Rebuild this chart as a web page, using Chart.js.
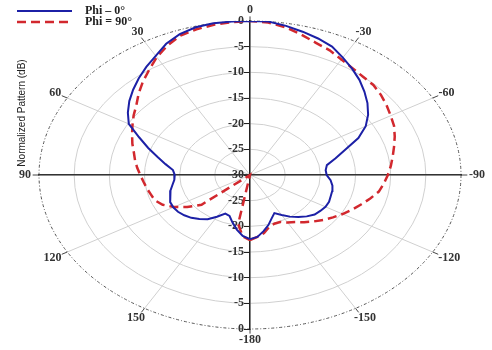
<!DOCTYPE html>
<html>
<head>
<meta charset="utf-8">
<script src="https://cdn.jsdelivr.net/npm/chart.js@4.4.1/dist/chart.umd.min.js"></script>
<style>
  html, body { margin: 0; padding: 0; background: #fff; }
</style>
</head>
<body>
<canvas id="patternChart" width="492" height="350"></canvas>
<script>
// angulos en grados: 0 arriba, positivos hacia la izquierda
var angles = [-180, -175, -170, -165, -160, -155, -150, -145, -140, -135, -130, -125,
              -120, -115, -110, -105, -100, -95, -90, -85, -80, -75, -70, -65,
              -60, -55, -50, -45, -40, -35, -30, -25, -20, -15, -10, -5,
              0, 5, 10, 15, 20, 25, 30, 35, 40, 45, 50, 55,
              60, 65, 70, 75, 80, 85, 90, 95, 100, 105, 110, 115,
              120, 125, 130, 135, 140, 145, 150, 155, 160, 165, 170, 175, 180];

// patron normalizado (dB), Phi = 0
var phi0 = [-17.5, -17.9, -18.9, -19.9, -21.0, -21.8, -21.0, -20.1, -19.3, -18.6, -18.0, -17.8,
            -17.6, -17.6, -17.8, -17.9, -18.1, -18.5, -19.1, -19.2, -18.9, -17.4, -15.6, -13.0,
            -11.0, -9.5, -8.2, -7.0, -5.8, -4.7, -3.6, -2.4, -1.7, -1.1, -0.5, 0,
            0, 0, 0, -0.2, -0.8, -1.8, -3.2, -4.3, -5.4, -6.5, -7.6, -8.8,
            -10.1, -12.6, -14.6, -16.4, -17.8, -19.0, -19.3, -19.2, -18.8, -18.3, -17.9, -17.5,
            -17.4, -17.5, -17.8, -18.2, -18.8, -19.5, -20.6, -21.7, -21.5, -20.4, -19.2, -18.1, -17.5];

// patron normalizado (dB), Phi = 90
var phi90 = [-17.3, -17.9, -18.5, -19.5, -19.9, -19.9, -19.3, -18.8, -18.0, -17.2, -16.4, -15.6,
             -14.8, -14.0, -13.2, -12.3, -11.4, -10.9, -10.4, -9.9, -9.4, -8.8, -8.1, -7.4,
             -6.9, -6.3, -5.7, -5.2, -5.0, -4.6, -4.0, -3.2, -2.6, -1.7, -0.8, -0.2,
             0, -0.1, -0.3, -0.6, -1.1, -2.2, -3.5, -5.0, -6.3, -7.6, -8.9, -9.8,
             -10.7, -11.5, -12.2, -12.9, -13.4, -13.9, -14.4, -14.8, -15.1, -15.4, -15.6, -16.3,
             -17.5, -19.1, -21.0, -30, -30, -30, -30, -30, -30, -30, -20.3, -18.0, -17.3];

var spokeAngles = [0, 30, 60, 90, 120, 150, 180, -150, -120, -90, -60, -30];
var spokeLabels = ['0', '30', '60', '90', '120', '150', '-180', '-150', '-120', '-90', '-60', '-30'];
var ringLevels = [-25, -20, -15, -10, -5];
var dbMin = -30;
var dbMax = 0;

var seriesNames = ['Phi \u2013 0\u00B0', 'Phi = 90\u00B0'];
var seriesColors = ['#1c20a6', '#d2282e'];

function toXY(values) {
    return angles.map(function(a, i) {
        var r = Math.max(0, values[i] - dbMin);
        var t = a * Math.PI / 180;
        return { x: -r * Math.sin(t), y: r * Math.cos(t) };
    });
}

var span = dbMax - dbMin;

// rejilla polar (elipses, radios, etiquetas de angulo)
var polarGrid = {
    id: 'polarGrid',
    beforeDraw: function(chart) {
        var ctx = chart.ctx, xs = chart.scales.x, ys = chart.scales.y;
        var cx = xs.getPixelForValue(0), cy = ys.getPixelForValue(0);
        function pt(r, a) {
            var t = a * Math.PI / 180;
            return [xs.getPixelForValue(-r * Math.sin(t)), ys.getPixelForValue(r * Math.cos(t))];
        }
        ctx.save();
        ctx.strokeStyle = '#d0d0d0';
        ctx.lineWidth = 1;
        ringLevels.forEach(function(lv) {
            var r = lv - dbMin;
            ctx.beginPath();
            ctx.ellipse(cx, cy, xs.getPixelForValue(r) - cx, cy - ys.getPixelForValue(r), 0, 0, Math.PI * 2);
            ctx.stroke();
        });
        spokeAngles.forEach(function(a) {
            var p = pt(span, a);
            ctx.beginPath();
            ctx.moveTo(cx, cy);
            ctx.lineTo(p[0], p[1]);
            ctx.stroke();
        });
        // borde exterior punteado
        ctx.strokeStyle = '#555';
        ctx.setLineDash([3, 2, 1, 2]);
        ctx.beginPath();
        ctx.ellipse(cx, cy, xs.getPixelForValue(span) - cx, cy - ys.getPixelForValue(span), 0, 0, Math.PI * 2);
        ctx.stroke();
        ctx.setLineDash([]);
        // marcas y etiquetas de angulo
        ctx.font = 'bold 12px "Liberation Serif", serif';
        ctx.fillStyle = '#333';
        ctx.textAlign = 'center';
        ctx.textBaseline = 'middle';
        spokeAngles.forEach(function(a, i) {
            var t = a * Math.PI / 180;
            var p = pt(span, a), q = pt(span * 1.03, a);
            ctx.strokeStyle = '#444';
            ctx.beginPath();
            ctx.moveTo(p[0], p[1]);
            ctx.lineTo(q[0], q[1]);
            ctx.stroke();
            var w = ctx.measureText(spokeLabels[i]).width;
            var offX = w / 2 + 8, offY = 11;
            ctx.fillText(spokeLabels[i], p[0] - offX * Math.sin(t), p[1] - offY * Math.cos(t));
        });
        ctx.restore();
    },
    afterDraw: function(chart) {
        var ctx = chart.ctx;
        ctx.save();
        // leyenda
        chart.data.datasets.forEach(function(ds, i) {
            var y = 11 + i * 11;
            ctx.strokeStyle = ds.borderColor;
            ctx.lineWidth = ds.borderWidth;
            ctx.setLineDash(ds.borderDash || []);
            ctx.beginPath();
            ctx.moveTo(17, y);
            ctx.lineTo(72, y);
            ctx.stroke();
            ctx.setLineDash([]);
            ctx.font = 'bold 12px "Liberation Serif", serif';
            ctx.fillStyle = '#222';
            ctx.textAlign = 'left';
            ctx.textBaseline = 'middle';
            ctx.fillText(ds.label, 85, y);
        });
        // titulo del eje
        ctx.translate(22, 113);
        ctx.rotate(-Math.PI / 2);
        ctx.font = '10px "Liberation Sans", Arial, sans-serif';
        ctx.fillStyle = '#222';
        ctx.textAlign = 'center';
        ctx.textBaseline = 'middle';
        ctx.fillText('Normalized Pattern (dB)', 0, 0);
        ctx.restore();
    }
};

var ctxPattern = document.getElementById('patternChart').getContext('2d');
var patternChart = new Chart(ctxPattern, {
    type: 'scatter',
    data: {
        datasets: [{
            label: seriesNames[0],
            data: toXY(phi0),
            showLine: true,
            borderColor: seriesColors[0],
            borderWidth: 2,
            pointRadius: 0,
            tension: 0
        }, {
            label: seriesNames[1],
            data: toXY(phi90),
            showLine: true,
            borderColor: seriesColors[1],
            borderWidth: 2.5,
            borderDash: [9, 5],
            pointRadius: 0,
            tension: 0
        }]
    },
    options: {
        responsive: false,
        animation: false,
        layout: { padding: { left: 39, right: 31, top: 21, bottom: 21 } },
        plugins: {
            legend: { display: false },
            tooltip: { enabled: false }
        },
        scales: {
            x: {
                min: -span, max: span,
                position: { y: 0 },
                border: { color: '#333', width: 1.5 },
                grid: { drawOnChartArea: false, drawTicks: false },
                ticks: { display: false }
            },
            y: {
                min: -span, max: span,
                position: { x: 0 },
                border: { color: '#222', width: 1.5 },
                grid: { drawOnChartArea: false, tickLength: 5, color: '#222' },
                ticks: {
                    stepSize: 5,
                    color: '#333',
                    font: { family: '"Liberation Serif", serif', weight: 'bold', size: 12 },
                    // el eje centrado alinea el texto justo en la linea: dos espacios de margen
                    callback: function(v) { return (Math.abs(v) + dbMin) + '  '; }
                }
            }
        }
    },
    plugins: [polarGrid]
});
</script>
</body>
</html>
